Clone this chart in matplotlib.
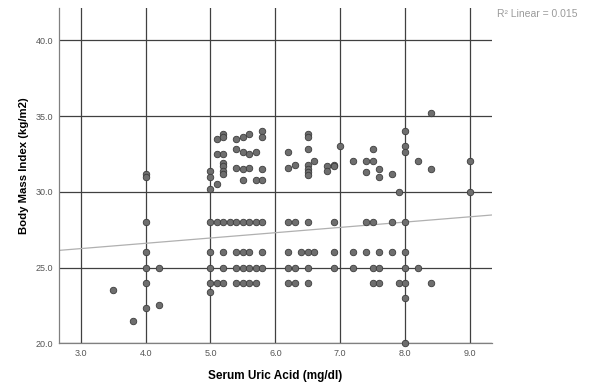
import numpy as np
import matplotlib
matplotlib.use('Agg')
from matplotlib import pyplot as plt

plt.rcParams['font.family'] = ['Liberation Sans', 'DejaVu Sans']

# serum uric acid (mg/dl) vs BMI
uric_acid = [3.5, 3.8,
             4.0, 4.0, 4.0, 4.0, 4.0, 4.0, 4.0,
             4.2, 4.2,
             5.0, 5.0, 5.0, 5.0, 5.0, 5.0, 5.0, 5.0,
             5.1, 5.1, 5.1, 5.1, 5.1,
             5.2, 5.2, 5.2, 5.2, 5.2, 5.2, 5.2, 5.2, 5.2, 5.2, 5.2,
             5.3,
             5.4, 5.4, 5.4, 5.4, 5.4, 5.4, 5.4,
             5.5, 5.5, 5.5, 5.5, 5.5, 5.5, 5.5, 5.5,
             5.6, 5.6, 5.6, 5.6, 5.6, 5.6, 5.6,
             5.7, 5.7, 5.7, 5.7, 5.7,
             5.8, 5.8, 5.8, 5.8, 5.8, 5.8, 5.8,
             6.2, 6.2, 6.2, 6.2, 6.2, 6.2,
             6.3, 6.3, 6.3, 6.3,
             6.4,
             6.5, 6.5, 6.5, 6.5, 6.5, 6.5, 6.5, 6.5, 6.5, 6.5, 6.5,
             6.6, 6.6,
             6.8, 6.8,
             6.9, 6.9, 6.9, 6.9, 6.9,
             7.0,
             7.2, 7.2, 7.2,
             7.4, 7.4, 7.4, 7.4,
             7.5, 7.5, 7.5, 7.5, 7.5,
             7.6, 7.6, 7.6, 7.6, 7.6,
             7.8, 7.8, 7.8,
             7.9, 7.9,
             8.0, 8.0, 8.0, 8.0, 8.0, 8.0, 8.0, 8.0, 8.0,
             8.2, 8.2,
             8.4, 8.4, 8.4,
             9.0, 9.0]
bmi = [23.5, 21.5,
       31.2, 31.0, 28, 26, 25, 24, 22.3,
       25, 22.5,
       31.4, 31.0, 30.2, 28, 26, 25, 24, 23.4,
       33.5, 32.5, 30.5, 28, 24,
       33.8, 33.6, 32.5, 31.9, 31.7, 31.4, 31.2, 28, 26, 25, 24,
       28,
       33.5, 32.8, 31.6, 28, 26, 25, 24,
       33.6, 32.6, 31.5, 30.8, 28, 26, 25, 24,
       33.8, 32.5, 31.6, 28, 26, 25, 24,
       32.6, 30.8, 28, 25, 24,
       34.0, 33.6, 31.5, 30.8, 28, 26, 25,
       32.6, 31.6, 28, 26, 25, 24,
       31.8, 28, 25, 24,
       26,
       33.8, 33.6, 32.8, 31.8, 31.5, 31.3, 31.1, 28, 26, 25, 24,
       32.0, 26,
       31.7, 31.4,
       31.8, 31.7, 28, 26, 25,
       33.0,
       32.0, 26, 25,
       32.0, 31.3, 28, 26,
       32.8, 32.0, 28, 25, 24,
       31.5, 31.0, 26, 25, 24,
       31.2, 28, 26,
       30.0, 24,
       34.0, 33.0, 32.6, 28, 26, 25, 24, 23.0, 20.0,
       32.0, 25,
       35.2, 31.5, 24,
       32.0, 30.0]

# fit line as shown in the chart
fit_intercept = 25.2
fit_slope = 0.35
r2_text = 'R\u00b2 Linear = 0.015'

x_ticks = [3.0, 4.0, 5.0, 6.0, 7.0, 8.0, 9.0]
y_ticks = [20.0, 25.0, 30.0, 35.0, 40.0]

fig = plt.figure(figsize=(5.9, 3.83), dpi=100)
ax = fig.add_axes([0.1, 0.1037, 0.7334, 0.8753])

ax.set_xlim(2.665, 9.335)
ax.set_ylim(20.0, 42.13)

for xv in x_ticks:
    ax.axvline(xv, color='#404040', lw=0.9, zorder=1)
for yv in y_ticks:
    ax.axhline(yv, color='#404040', lw=0.9, zorder=1)

xs = np.array(ax.get_xlim())
ax.plot(xs, fit_intercept + fit_slope * xs, color='#b0b0b0', lw=0.9, zorder=2)

ax.scatter(uric_acid, bmi, s=22, facecolor='#6e6e6e', edgecolor='#3c3c3c',
           linewidths=0.6, zorder=3, clip_on=False)

ax.set_xticks(x_ticks)
ax.set_xticklabels(['%.1f' % v for v in x_ticks])
ax.set_yticks(y_ticks)
ax.set_yticklabels(['%.1f' % v for v in y_ticks])
ax.tick_params(length=0, labelsize=6.5, colors='#555555', pad=4)

for s in ['top', 'right']:
    ax.spines[s].set_visible(False)
for s in ['left', 'bottom']:
    ax.spines[s].set_color('#808080')
    ax.spines[s].set_linewidth(0.9)

ax.set_xlabel('Serum Uric Acid (mg/dl)', fontsize=8.5, fontweight='bold', labelpad=9)
ax.set_ylabel('Body Mass Index (kg/m2)', fontsize=8.2, fontweight='bold', labelpad=5)
ax.yaxis.set_label_coords(-0.069, 0.53)

fig.text(0.843, 0.963, r2_text, fontsize=7.5, color='#9a9a9a', ha='left', va='center')

fig.savefig('out.png', dpi=100)
